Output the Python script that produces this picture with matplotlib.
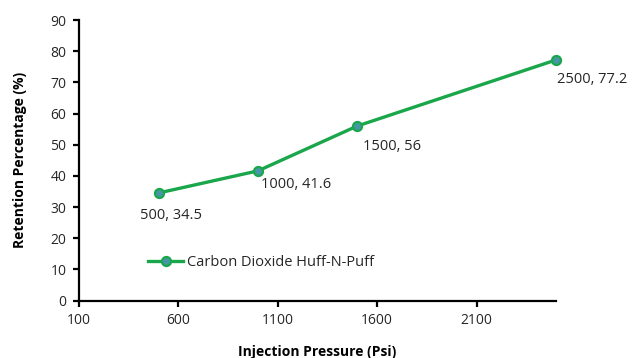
import matplotlib
matplotlib.use("Agg")
import matplotlib.pyplot as plt

pressure = [500, 1000, 1500, 2500]
retention = [34.5, 41.6, 56, 77.2]
point_labels = ["500, 34.5", "1000, 41.6", "1500, 56", "2500, 77.2"]
series_name = "Carbon Dioxide Huff-N-Puff"
x_ticks = [100, 600, 1100, 1600, 2100]
y_ticks = [0, 10, 20, 30, 40, 50, 60, 70, 80, 90]

plt.rcParams['font.family'] = ['Open Sans', 'DejaVu Sans']

fig = plt.figure(figsize=(6.34, 3.58), dpi=100)
ax = fig.add_axes([0.1246, 0.1606, 0.7524, 0.7834])

line_color = '#1aa64b'
ax.plot(pressure, retention, color=line_color, lw=2.4, marker='o', ms=6.5,
        markerfacecolor='#4597a8', markeredgecolor=line_color, markeredgewidth=1.6,
        label=series_name, clip_on=False, zorder=3)

offsets = [(-13, -16), (2, -10), (4.3, -15), (0.7, -14.4)]
for x, y, t, (dx, dy) in zip(pressure, retention, point_labels, offsets):
    ax.annotate(t, (x, y), xytext=(dx, dy), textcoords='offset points',
                fontsize=10.5, color='#262626', ha='left', va='center')

ax.set_xlim(100, 2500)
ax.set_ylim(0, 90)
ax.set_xticks(x_ticks)
ax.set_yticks(y_ticks)
for s in ['top', 'right']:
    ax.spines[s].set_visible(False)
for s in ['left', 'bottom']:
    ax.spines[s].set_linewidth(1.6)
    ax.spines[s].set_color('black')
ax.tick_params(direction='out', length=4, width=1.6, labelsize=10, colors='black',
               labelcolor='#262626', pad=5)

ax.set_xlabel('Injection Pressure (Psi)', fontsize=10, fontweight='bold', labelpad=12)
ax.set_ylabel('Retention Percentage (%)', fontsize=10, fontweight='bold', labelpad=17)

leg = ax.legend(loc='center left', bbox_to_anchor=(0.1447, 0.1357), frameon=False,
                fontsize=10.5, handlelength=2.4, handletextpad=0.28,
                borderpad=0, borderaxespad=0)
for t in leg.get_texts():
    t.set_color('#262626')

fig.savefig('out.png', dpi=100)
